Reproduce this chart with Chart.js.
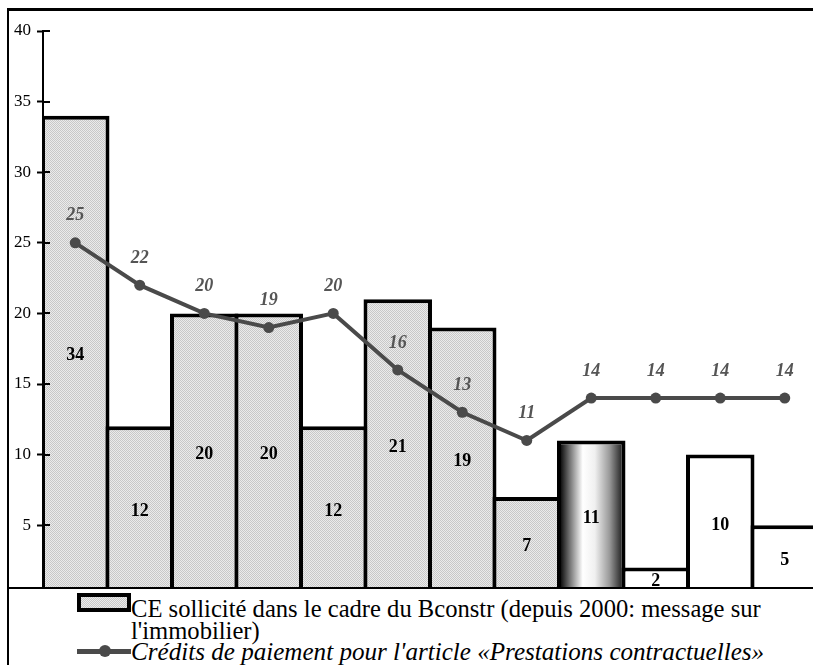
<!DOCTYPE html>
<html>
<head>
<meta charset="utf-8">
<script src="https://cdn.jsdelivr.net/npm/chart.js@4.4.1/dist/chart.umd.min.js"></script>
<style>
  html, body { margin: 0; padding: 0; background: #fff; }
  #page { position: relative; width: 813px; height: 665px; overflow: hidden; background: #fff; }
  #frame { position: absolute; left: 7px; top: 8px; width: 900px; height: 700px;
           border-left: 2px solid #000; border-top: 3px solid #000; box-sizing: border-box; }
  #chartBox { position: absolute; left: 0; top: 0; width: 830px; height: 612px; }
  #legendPanel { position: absolute; left: 9px; top: 587px; width: 820px; height: 90px;
                 background: #fff; border-top: 2px solid #000; }
  .legText { position: absolute; left: 131px; font-family: 'Liberation Serif', 'Times New Roman', serif;
             font-size: 24.6px; line-height: 21.5px; color: #000; white-space: nowrap; }
  #swatchBar { position: absolute; left: 77px; top: 593px; width: 54px; height: 19px; box-sizing: border-box;
               border: 4px solid #000;
               background: repeating-conic-gradient(#c8c8c8 0 25%, #ebebeb 0 50%) 0 0 / 2px 2px; }
  #swatchLine { position: absolute; left: 77px; top: 649px; width: 54px; height: 5px; background: #4a4a4a; }
  #swatchDot { position: absolute; left: 99px; top: 645px; width: 12px; height: 12px; border-radius: 50%; background: #4a4a4a; }
</style>
</head>
<body>
<div id="page">
  <div id="chartBox"><canvas id="chart"></canvas></div>
  <div id="frame"></div>
  <div id="legendPanel"></div>
  <div id="swatchBar"></div>
  <div class="legText" style="top:598px;">CE sollicité dans le cadre du Bconstr (depuis 2000: message sur<br>l'immobilier)</div>
  <div id="swatchLine"></div>
  <div id="swatchDot"></div>
  <div class="legText" style="top:641px;font-style:italic;font-size:25.1px;">Crédits de paiement pour l'article «Prestations contractuelles»</div>
</div>
<script>
// Twelve periods, one bar and one line point each
const categories = ['1', '2', '3', '4', '5', '6', '7', '8', '9', '10', '11', '12'];
// CE sollicité dans le cadre du Bconstr
const barValues = [34, 12, 20, 20, 12, 21, 19, 7, 11, 2, 10, 5];
// Crédits de paiement pour l'article «Prestations contractuelles»
const lineValues = [25, 22, 20, 19, 20, 16, 13, 11, 14, 14, 14, 14];
// Y axis ticks
const yTicks = [5, 10, 15, 20, 25, 30, 35, 40];

// Fill style per bar: stippled grey, shaded cylinder, or plain white
const barStyle = ['dots', 'dots', 'dots', 'dots', 'dots', 'dots', 'dots', 'dots', 'cylinder', 'white', 'white', 'white'];

// Fine stipple pattern for the grey bars
const tile = document.createElement('canvas');
tile.width = 2; tile.height = 2;
const tctx = tile.getContext('2d');
tctx.fillStyle = '#ebebeb'; tctx.fillRect(0, 0, 2, 2);
tctx.fillStyle = '#c8c8c8'; tctx.fillRect(0, 0, 1, 1); tctx.fillRect(1, 1, 1, 1);
const dotPattern = tctx.createPattern(tile, 'repeat');

const SERIF = "'Liberation Serif', 'Times New Roman', serif";
const BAR_PCT = 1.062;

function barFill(c) {
  const i = c.dataIndex;
  if (i === undefined) return '#d6d6d6';
  const kind = barStyle[i];
  if (kind === 'white') return '#ffffff';
  if (kind === 'dots') return dotPattern;
  const xs = c.chart.scales.x;
  if (!xs || !xs.width) return '#999';
  const cx = xs.getPixelForValue(i);
  const half = xs.width / categories.length * BAR_PCT / 2 - 4;
  const g = c.chart.ctx.createLinearGradient(cx - half, 0, cx + half, 0);
  g.addColorStop(0, '#111111');
  g.addColorStop(0.14, '#707070');
  g.addColorStop(0.36, '#ffffff');
  g.addColorStop(0.56, '#f0f0f0');
  g.addColorStop(0.8, '#9a9a9a');
  g.addColorStop(1, '#2a2a2a');
  return g;
}

// Value labels: bold in the bars, bold italic above the line points
const valueLabels = {
  id: 'valueLabels',
  afterDatasetsDraw(chart) {
    const ctx = chart.ctx;
    const ys = chart.scales.y;
    ctx.save();
    ctx.textAlign = 'center';
    ctx.textBaseline = 'middle';
    const barMeta = chart.getDatasetMeta(0);
    ctx.font = 'bold 18px ' + SERIF;
    ctx.fillStyle = '#000';
    barMeta.data.forEach((el, i) => {
      const v = barValues[i];
      ctx.fillText(String(v), el.x, ys.getPixelForValue(v / 2));
    });
    const lineMeta = chart.getDatasetMeta(1);
    ctx.font = 'italic bold 18px ' + SERIF;
    ctx.fillStyle = '#555555';
    lineMeta.data.forEach((el, i) => {
      ctx.fillText(String(lineValues[i]), el.x, el.y - 27);
    });
    ctx.restore();
  }
};

// Tick marks that cross the y axis into the plot
const innerTicks = {
  id: 'innerTicks',
  afterDraw(chart) {
    const ctx = chart.ctx;
    const ys = chart.scales.y;
    const left = chart.chartArea.left;
    ctx.save();
    ctx.strokeStyle = '#000';
    ctx.lineWidth = 2;
    yTicks.forEach(t => {
      const y = Math.round(ys.getPixelForValue(t));
      ctx.beginPath();
      ctx.moveTo(left, y);
      ctx.lineTo(left + 7, y);
      ctx.stroke();
    });
    ctx.restore();
  }
};

new Chart(document.getElementById('chart'), {
  data: {
    labels: categories,
    datasets: [
      {
        type: 'bar',
        label: 'CE sollicité dans le cadre du Bconstr (depuis 2000: message sur l\'immobilier)',
        data: barValues,
        backgroundColor: barFill,
        borderColor: '#000',
        borderWidth: 4,
        borderSkipped: 'start',
        barPercentage: BAR_PCT,
        categoryPercentage: 1,
        order: 2
      },
      {
        type: 'line',
        label: 'Crédits de paiement pour l\'article «Prestations contractuelles»',
        data: lineValues,
        borderColor: '#4a4a4a',
        borderWidth: 4,
        pointRadius: 5.5,
        pointBackgroundColor: '#4a4a4a',
        pointBorderWidth: 0,
        tension: 0,
        order: 1
      }
    ]
  },
  options: {
    responsive: true,
    maintainAspectRatio: false,
    animation: false,
    layout: { padding: { top: 31, bottom: 11, left: 0, right: 13 } },
    plugins: { legend: { display: false }, tooltip: { enabled: false } },
    scales: {
      x: { type: 'category', display: false, offset: true },
      y: {
        min: 0, max: 40,
        afterFit(s) { s.width = 43; },
        afterBuildTicks(s) { s.ticks = yTicks.map(v => ({ value: v })); },
        border: { display: true, color: '#000', width: 2 },
        grid: { drawOnChartArea: false, drawTicks: true, tickLength: 6, tickWidth: 2, tickColor: '#000' },
        ticks: { padding: 6, color: '#000', font: { family: SERIF, size: 17 } }
      }
    }
  },
  plugins: [valueLabels, innerTicks]
});
</script>
</body>
</html>
